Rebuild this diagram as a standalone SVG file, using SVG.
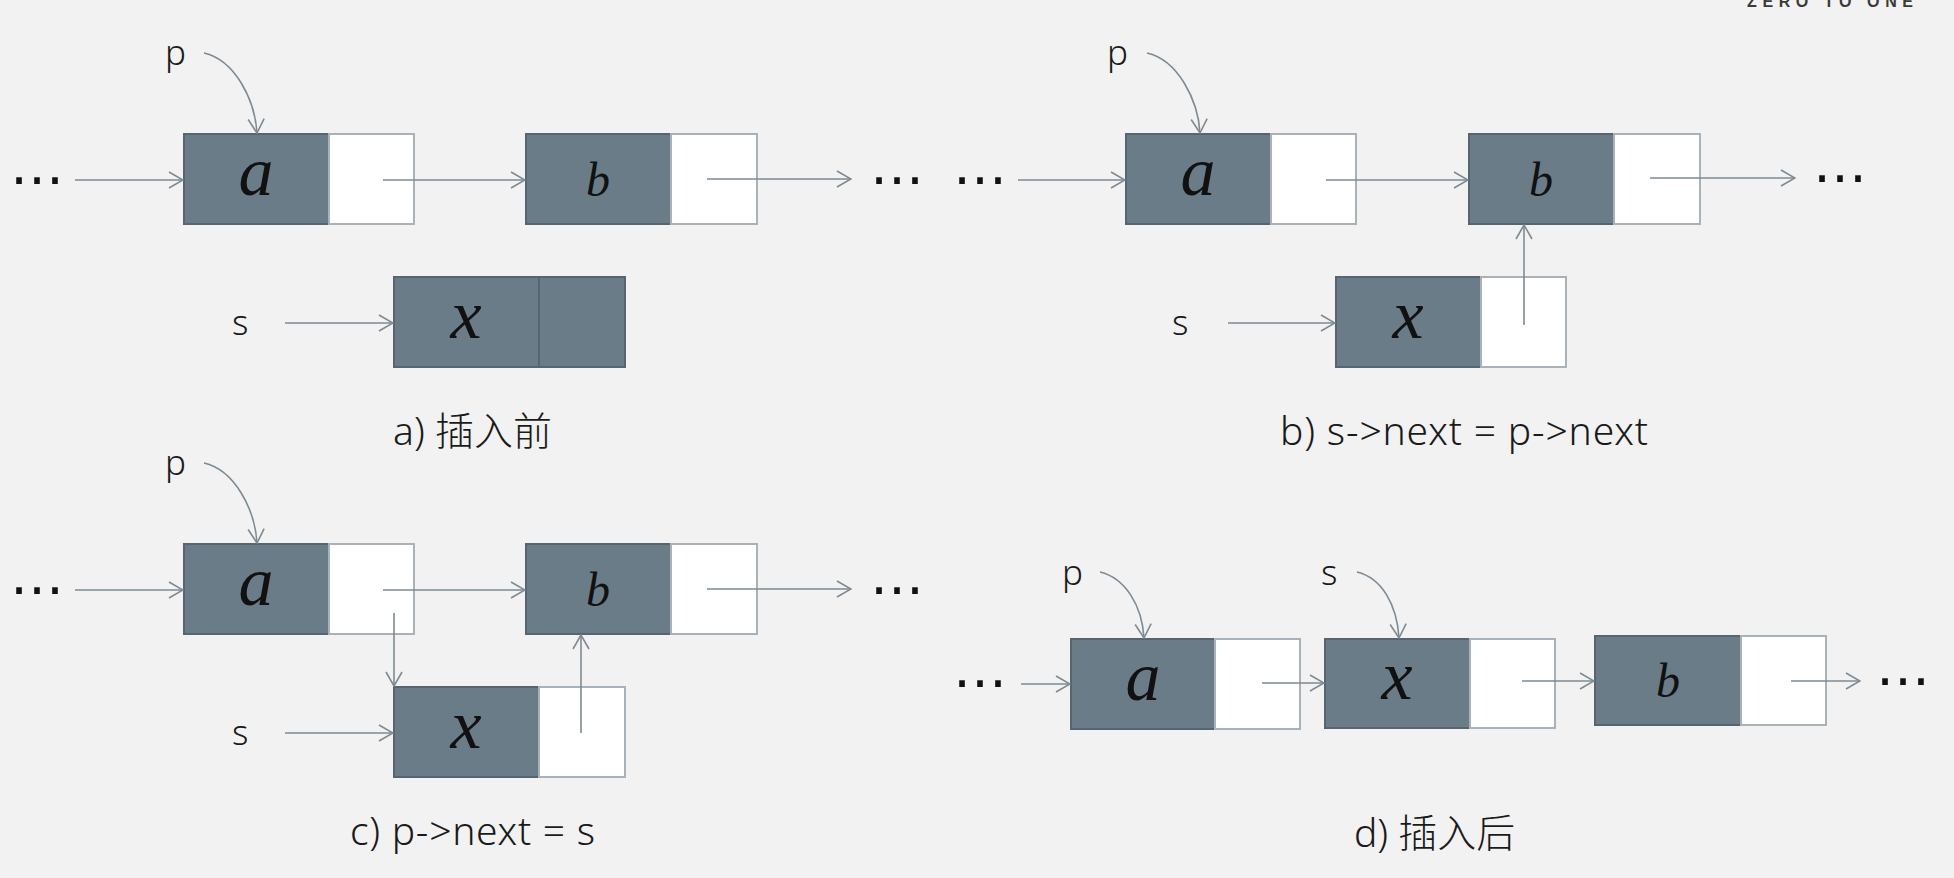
<svg xmlns="http://www.w3.org/2000/svg" width="1954" height="878" viewBox="0 0 1954 878">
<style>
.bg{fill:#f2f2f2}
.dk{fill:#6a7c88;stroke:#56656f;stroke-width:2}
.wh{fill:#ffffff;stroke:#a9b2b8;stroke-width:2}
.ln{fill:none;stroke:#7d8a93;stroke-width:1.6}
.m{font-family:"Liberation Serif",serif;font-style:italic;fill:#111;text-anchor:middle}
.big{font-size:70px}
.sm{font-size:48px}
.lbl{font-family:"Noto Sans","Noto Sans CJK SC",sans-serif;font-weight:300;font-size:35px;fill:#1a1a1a}
.cap{font-family:"Noto Sans","Noto Sans CJK SC",sans-serif;font-weight:300;font-size:39px;fill:#1a1a1a}
.dots{font-family:"DejaVu Sans",sans-serif;font-size:54px;fill:#111;text-anchor:middle}
.logo{font-family:"Liberation Sans",sans-serif;font-weight:bold;font-size:16px;fill:#3a3a3a}
</style>
<defs>
<marker id="ah" viewBox="0 0 16 18" refX="15" refY="9" markerWidth="16" markerHeight="18" orient="auto" markerUnits="userSpaceOnUse">
<path d="M1,1 L15,9 L1,17" fill="none" stroke="#7d8a93" stroke-width="1.6"/>
</marker>
</defs>
<rect class="bg" x="0" y="0" width="1954" height="878"/>
<text class="logo" x="1747" y="6.5" textLength="166" lengthAdjust="spacing">ZERO TO ONE</text>

<!-- Panel a -->
<g id="a-dots-left"><text class="dots" x="37" y="184">…</text></g>
<g id="a-dots-right"><text class="dots" x="897" y="184">…</text></g>
<g id="a-node-a"><rect class="dk" x="184" y="134" width="145" height="90"/><rect class="wh" x="329" y="134" width="85" height="90"/><text class="m big" x="256" y="195">a</text></g>
<g id="a-node-b"><rect class="dk" x="526" y="134" width="145" height="90"/><rect class="wh" x="671" y="134" width="86" height="90"/><text class="m sm" x="598" y="196">b</text></g>
<g id="a-node-x"><rect class="dk" x="394" y="277" width="145" height="90"/><rect class="dk" x="539" y="277" width="86" height="90"/><text class="m big" x="466" y="338">x</text></g>
<g id="a-label-p"><text class="lbl" x="165" y="65">p</text></g>
<g id="a-label-s"><text class="lbl" x="232" y="335">s</text></g>
<g id="a-caption"><text class="cap" x="393" y="445">a) 插入前</text></g>

<!-- Panel b -->
<g id="b-dots-left"><text class="dots" x="980" y="184">…</text></g>
<g id="b-dots-right"><text class="dots" x="1840" y="182">…</text></g>
<g id="b-node-a"><rect class="dk" x="1126" y="134" width="145" height="90"/><rect class="wh" x="1271" y="134" width="85" height="90"/><text class="m big" x="1198" y="195">a</text></g>
<g id="b-node-b"><rect class="dk" x="1469" y="134" width="145" height="90"/><rect class="wh" x="1614" y="134" width="86" height="90"/><text class="m sm" x="1541" y="196">b</text></g>
<g id="b-node-x"><rect class="dk" x="1336" y="277" width="145" height="90"/><rect class="wh" x="1481" y="277" width="85" height="90"/><text class="m big" x="1408" y="338">x</text></g>
<g id="b-label-p"><text class="lbl" x="1107" y="65">p</text></g>
<g id="b-label-s"><text class="lbl" x="1172" y="335">s</text></g>
<g id="b-caption"><text class="cap" x="1280" y="445" textLength="368" lengthAdjust="spacing">b) s-&gt;next = p-&gt;next</text></g>

<!-- Panel c -->
<g id="c-dots-left"><text class="dots" x="37" y="594">…</text></g>
<g id="c-dots-right"><text class="dots" x="897" y="594">…</text></g>
<g id="c-node-a"><rect class="dk" x="184" y="544" width="145" height="90"/><rect class="wh" x="329" y="544" width="85" height="90"/><text class="m big" x="256" y="605">a</text></g>
<g id="c-node-b"><rect class="dk" x="526" y="544" width="145" height="90"/><rect class="wh" x="671" y="544" width="86" height="90"/><text class="m sm" x="598" y="606">b</text></g>
<g id="c-node-x"><rect class="dk" x="394" y="687" width="145" height="90"/><rect class="wh" x="539" y="687" width="86" height="90"/><text class="m big" x="466" y="748">x</text></g>
<g id="c-label-p"><text class="lbl" x="165" y="475">p</text></g>
<g id="c-label-s"><text class="lbl" x="232" y="745">s</text></g>
<g id="c-caption"><text class="cap" x="350" y="845" textLength="245" lengthAdjust="spacing">c) p-&gt;next = s</text></g>

<!-- Panel d -->
<g id="d-dots-left"><text class="dots" x="980" y="687">…</text></g>
<g id="d-dots-right"><text class="dots" x="1903" y="685">…</text></g>
<g id="d-node-a"><rect class="dk" x="1071" y="639" width="144" height="90"/><rect class="wh" x="1215" y="639" width="85" height="90"/><text class="m big" x="1143" y="700">a</text></g>
<g id="d-node-x"><rect class="dk" x="1325" y="639" width="145" height="89"/><rect class="wh" x="1470" y="639" width="85" height="89"/><text class="m big" x="1397" y="699">x</text></g>
<g id="d-node-b"><rect class="dk" x="1595" y="636" width="146" height="89"/><rect class="wh" x="1741" y="636" width="85" height="89"/><text class="m sm" x="1668" y="697">b</text></g>
<g id="d-label-p"><text class="lbl" x="1062" y="585">p</text></g>
<g id="d-label-s"><text class="lbl" x="1321" y="585">s</text></g>
<g id="d-caption"><text class="cap" x="1354" y="847">d) 插入后</text></g>

<g id="connectors" class="ln" marker-end="url(#ah)">
<!-- a -->
<path d="M204,53 C235,60 255,100 257,133"/>
<path d="M75,180 L183,180"/>
<path d="M383,180 L525,180"/>
<path d="M707,179 L851,179"/>
<path d="M285,323 L393,323"/>
<!-- b -->
<path d="M1147,53 C1178,60 1198,100 1200,133"/>
<path d="M1018,180 L1125,180"/>
<path d="M1326,180 L1468,180"/>
<path d="M1650,178 L1795,178"/>
<path d="M1228,323 L1335,323"/>
<path d="M1524,325 L1524,225"/>
<!-- c -->
<path d="M204,463 C235,470 255,510 257,543"/>
<path d="M75,590 L183,590"/>
<path d="M383,590 L525,590"/>
<path d="M707,589 L851,589"/>
<path d="M285,733 L393,733"/>
<path d="M394,613 L394,686"/>
<path d="M581,733 L581,635"/>
<!-- d -->
<path d="M1100,572 C1125,578 1142,605 1144,638"/>
<path d="M1357,572 C1382,578 1397,605 1399,638"/>
<path d="M1021,684 L1070,684"/>
<path d="M1262,683 L1324,683"/>
<path d="M1522,681 L1594,681"/>
<path d="M1791,681 L1860,681"/>
</g>
</svg>
